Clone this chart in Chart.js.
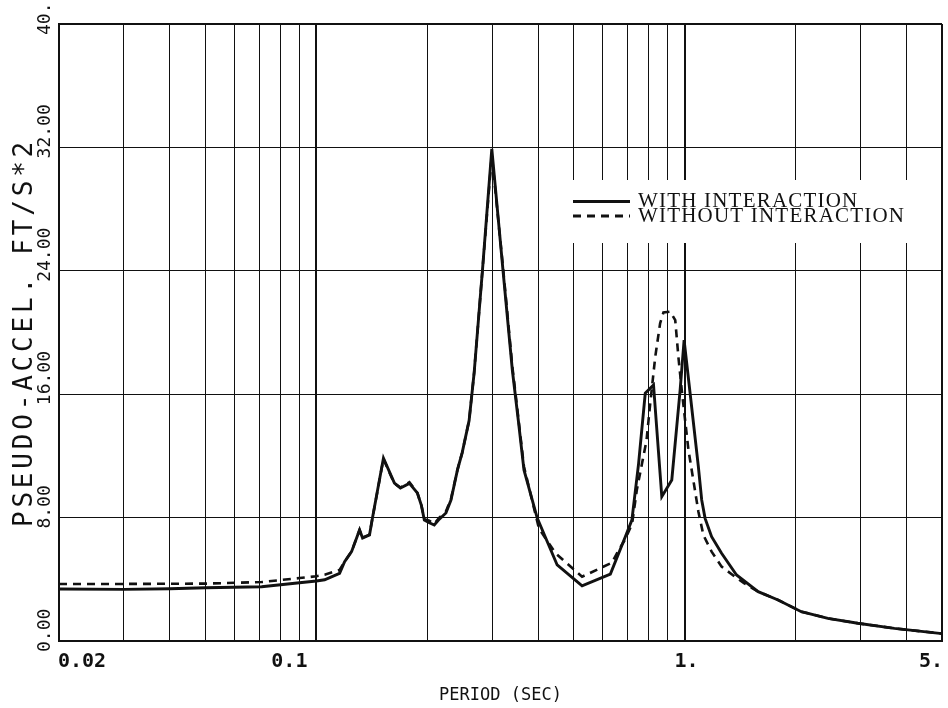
<!DOCTYPE html>
<html>
<head>
<meta charset="utf-8">
<script src="https://cdn.jsdelivr.net/npm/chart.js@4/dist/chart.umd.min.js"></script>
<style>
html,body{margin:0;padding:0;background:#fff;}
#wrap{width:948px;height:708px;}
</style>
</head>
<body>
<div id="wrap"><canvas id="c" width="948" height="708"></canvas></div>
<script>
// ---- data ----
const seriesNames = ['WITH INTERACTION', 'WITHOUT INTERACTION'];

const periodsWith = [0.02,0.03,0.04,0.05,0.071,0.09,0.1,0.1053,0.1156,0.1193,0.1246,0.131,0.1335,0.1394,0.142,0.1521,0.1629,0.1691,0.1789,0.188,0.1928,0.1964,0.2026,0.209,0.2157,0.2248,0.232,0.2416,0.2488,0.2599,0.2682,0.2824,0.2995,0.3213,0.3405,0.3534,0.3662,0.3979,0.4507,0.5267,0.6286,0.6902,0.7191,0.7499,0.7818,0.8233,0.867,0.9229,0.9723,0.9968,1.0349,1.0897,1.1128,1.1366,1.1839,1.26,1.3836,1.5838,1.7943,2.0746,2.4499,2.9536,3.7119,5.0];
const accelWith   = [3.37,3.35,3.39,3.45,3.52,3.78,3.89,3.97,4.39,5.14,5.79,7.2,6.68,6.87,7.97,11.86,10.24,9.92,10.22,9.6,8.8,7.84,7.67,7.52,7.9,8.3,9.14,11.09,12.2,14.3,17.4,24.0,31.9,24.0,17.57,14.33,11.09,7.97,4.93,3.57,4.34,6.76,7.84,11.5,16.06,16.6,9.36,10.44,16.27,19.5,16.06,11.3,9.14,7.95,6.76,5.69,4.28,3.2,2.66,1.9,1.47,1.15,0.82,0.48];

const periodsWithout = [0.02,0.03,0.04,0.05,0.071,0.09,0.1,0.1053,0.1156,0.1193,0.1246,0.131,0.1335,0.1394,0.142,0.1521,0.1629,0.1691,0.1789,0.188,0.1928,0.1964,0.2026,0.209,0.2157,0.2248,0.232,0.2416,0.2488,0.2599,0.2682,0.2824,0.2995,0.3213,0.3405,0.3534,0.3662,0.4021,0.4461,0.5267,0.6349,0.662,0.69,0.72,0.7418,0.788,0.8065,0.832,0.858,0.876,0.914,0.943,0.962,0.982,1.024,1.0564,1.0897,1.1244,1.1839,1.26,1.37,1.45,1.5838,1.7943,2.0746,2.4499,2.9536,3.7119,5.0];
const accelWithout   = [3.70,3.70,3.71,3.72,3.82,4.08,4.2,4.3,4.6,5.14,5.8,7.2,6.7,6.9,7.97,11.8,10.2,9.95,10.3,9.6,8.8,7.9,7.8,7.6,8.0,8.4,9.2,11.1,12.2,14.3,17.4,24.0,31.5,24.2,17.8,14.5,11.3,7.3,5.69,4.17,5.08,5.9,6.6,7.6,9.8,13.0,15.4,18.4,20.6,21.3,21.35,20.8,18.4,16.3,12.4,10.4,8.4,6.87,5.79,4.82,4.17,3.75,3.2,2.66,1.9,1.47,1.15,0.82,0.48];

const xGridValues = [0.02,0.03,0.04,0.05,0.06,0.07,0.08,0.09,0.1,0.2,0.3,0.4,0.5,0.6,0.7,0.8,0.9,1,2,3,4,5];
const xTickValues = [0.02, 0.1, 1, 5];
const xTickLabels = ['0.02', '0.1', '1.', '5.'];
const yTickValues = [0, 8, 16, 24, 32, 40];
const yTickLabels = ['0.00', '8.00', '16.00', '24.00', '32.00', '40.'];
const xTitle = 'PERIOD (SEC)';
const yTitle = 'PSEUDO-ACCEL. FT/S*2';

const toPoints = (xs, ys) => xs.map((x, i) => ({x: x, y: ys[i]}));

const INK = '#111';

const plotterText = {
  id: 'plotterText',
  beforeDatasetsDraw(chart) {
    const ctx = chart.ctx;
    ctx.save();
    ctx.fillStyle = '#fff';
    ctx.fillRect(566, 180, 350, 63);
    ctx.restore();
  },
  afterDraw(chart) {
    const ctx = chart.ctx;
    const xs = chart.scales.x, ys = chart.scales.y;
    ctx.save();
    ctx.fillStyle = INK;
    ctx.textBaseline = 'alphabetic';

    // x tick labels
    ctx.font = 'bold 20px "DejaVu Sans Mono"';
    xTickValues.forEach((v, i) => {
      const px = xs.getPixelForValue(v);
      let align = 'center', dx = 0;
      if (i === 0) { align = 'left'; dx = -1; }
      else if (i === xTickValues.length - 1) { align = 'right'; dx = 1; }
      else if (v < 0.5) { dx = -27; }
      else { dx = 2; }
      ctx.textAlign = align;
      ctx.fillText(xTickLabels[i], px + dx, 667);
    });

    // y tick labels (rotated)
    ctx.font = '18px "DejaVu Sans Mono"';
    yTickValues.forEach((v, i) => {
      const py = ys.getPixelForValue(v);
      ctx.save();
      ctx.translate(50, py + 11);
      ctx.rotate(-Math.PI / 2);
      ctx.textAlign = 'left';
      ctx.fillText(yTickLabels[i], 0, 0);
      ctx.restore();
    });

    // axis titles
    ctx.font = '17px "DejaVu Sans Mono"';
    ctx.textAlign = 'center';
    ctx.fillText(xTitle, (chart.chartArea.left + chart.chartArea.right) / 2, 700);

    ctx.save();
    ctx.font = '26px "DejaVu Sans Mono"';
    try { ctx.letterSpacing = '3.8px'; } catch (e) {}
    ctx.translate(32, (chart.chartArea.top + chart.chartArea.bottom) / 2);
    ctx.rotate(-Math.PI / 2);
    ctx.textAlign = 'center';
    ctx.fillText(yTitle, 0, 0);
    ctx.restore();

    // legend
    const rows = [201.5, 216];
    chart.data.datasets.forEach((ds, i) => {
      ctx.save();
      ctx.strokeStyle = ds.borderColor;
      ctx.lineWidth = 3;
      ctx.setLineDash(ds.borderDash || []);
      ctx.beginPath();
      ctx.moveTo(573, rows[i]);
      ctx.lineTo(630, rows[i]);
      ctx.stroke();
      ctx.restore();
      ctx.save();
      ctx.font = '21px "Liberation Serif"';
      try { ctx.letterSpacing = '1.2px'; } catch (e) {}
      ctx.textAlign = 'left';
      ctx.fillStyle = INK;
      ctx.fillText(ds.label, 638, rows[i] + 5.5);
      ctx.restore();
    });
    ctx.restore();
  }
};

new Chart(document.getElementById('c'), {
  type: 'line',
  data: {
    datasets: [
      {
        label: seriesNames[0],
        data: toPoints(periodsWith, accelWith),
        borderColor: INK,
        borderWidth: 2.9,
        pointRadius: 0,
        tension: 0,
        fill: false
      },
      {
        label: seriesNames[1],
        data: toPoints(periodsWithout, accelWithout),
        borderColor: INK,
        borderWidth: 2.6,
        borderDash: [8, 6],
        pointRadius: 0,
        tension: 0,
        fill: false
      }
    ]
  },
  options: {
    responsive: false,
    devicePixelRatio: 1,
    animation: false,
    layout: { padding: { top: 24, right: 6, left: 0, bottom: 0 } },
    plugins: { legend: { display: false }, tooltip: { enabled: false } },
    scales: {
      x: {
        type: 'logarithmic',
        min: 0.02,
        max: 5,
        afterBuildTicks: (s) => { s.ticks = xGridValues.map(v => ({ value: v })); },
        afterFit: (s) => { s.height = 67; },
        ticks: { display: false },
        grid: {
          color: INK,
          drawTicks: false,
          lineWidth: (c) => {
            const v = c.tick ? c.tick.value : 0;
            return (Math.abs(v - 0.1) < 1e-9 || Math.abs(v - 1) < 1e-9 || Math.abs(v - 5) < 1e-9) ? 2 : 1;
          }
        },
        border: { display: true, color: INK, width: 2 }
      },
      y: {
        type: 'linear',
        min: 0,
        max: 40,
        ticks: { display: false, stepSize: 8 },
        afterFit: (s) => { s.width = 59; },
        grid: {
          color: INK,
          drawTicks: false,
          lineWidth: (c) => (c.tick && c.tick.value === 40 ? 2 : 1)
        },
        border: { display: true, color: INK, width: 2 }
      }
    }
  },
  plugins: [plotterText]
});
</script>
</body>
</html>
